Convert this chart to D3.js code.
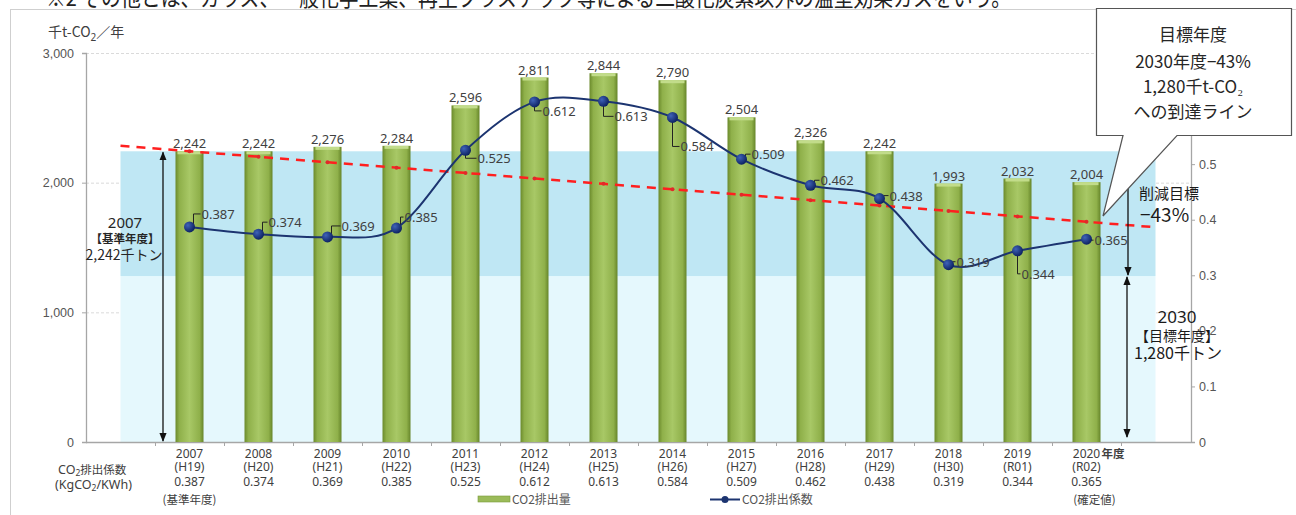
<!DOCTYPE html>
<html><head><meta charset="utf-8">
<script src="https://cdn.jsdelivr.net/npm/d3@7"></script>
<style>
body{margin:0;background:#fff;}
svg{display:block;font-family:"Noto Sans","Noto Sans CJK JP",sans-serif;}
</style></head>
<body><svg id="c" width="1296" height="515"></svg>
<script>
// ---- data ----
const years = ["2007","2008","2009","2010","2011","2012","2013","2014","2015","2016","2017","2018","2019","2020"];
const eras = ["(H19)","(H20)","(H21)","(H22)","(H23)","(H24)","(H25)","(H26)","(H27)","(H28)","(H29)","(H30)","(R01)","(R02)"];
const emissions = [2242,2242,2276,2284,2596,2811,2844,2790,2504,2326,2242,1993,2032,2004];
const coefficients = [0.387,0.374,0.369,0.385,0.525,0.612,0.613,0.584,0.509,0.462,0.438,0.319,0.344,0.365];
// target line (2007 base 2,242 -> 2030 target 1,280), read at each slot incl. the blank edge slots
const slots = ["s0","2007","2008","2009","2010","2011","2012","2013","2014","2015","2016","2017","2018","2019","2020","s15"];
const targetLine = [2284,2242,2200,2158,2116,2075,2033,1991,1949,1907,1865,1824,1782,1740,1698,1656];
const baseValue = 2242, targetValue = 1280;
const leftTicks = [0,1000,2000,3000];
const rightTicks = [0,0.1,0.2,0.3,0.4,0.5];

// label layout (offsets of coefficient labels from their points)
const lblOff = [[12,-13],[10,-12],[14,-11],[8,-11],[12,8],[8,9],[11,15],[8,29],[10,-5],[10,-5],[10,-3],[8,-3],[4,23],[8,1]];

const svg = d3.select("#c");
const defs = svg.append("defs");
const g1 = defs.append("linearGradient").attr("id","barg").attr("x1","0").attr("x2","1").attr("y1","0").attr("y2","0");
[["0%","#6b8a2c"],["14%","#8fb04a"],["50%","#a8c866"],["86%","#8fb04a"],["100%","#66852a"]].forEach(s=>g1.append("stop").attr("offset",s[0]).attr("stop-color",s[1]));
const g2 = defs.append("radialGradient").attr("id","dotg").attr("cx","35%").attr("cy","35%").attr("r","70%");
[["0%","#3f63b8"],["100%","#0b1f5e"]].forEach(s=>g2.append("stop").attr("offset",s[0]).attr("stop-color",s[1]));
const mk = defs.append("marker").attr("id","arr").attr("viewBox","0 0 10 10").attr("refX",9).attr("refY",5)
  .attr("markerWidth",7).attr("markerHeight",7).attr("orient","auto-start-reverse");
mk.append("path").attr("d","M0,1 L10,5 L0,9 Z").attr("fill","#111");

// cut-off text line at the very top
svg.append("text").attr("x",46).attr("y",6).attr("font-size",23).attr("fill","#222")
  .attr("font-family","Noto Sans CJK JP").attr("textLength",965).attr("lengthAdjust","spacingAndGlyphs")
  .text("※2 その他とは、ガラス、一般化学工業、再生プラスチック等による二酸化炭素以外の温室効果ガスをいう。");

// frame
svg.append("rect").attr("x",10.5).attr("y",9.5).attr("width",1300).attr("height",520).attr("fill","#fff").attr("stroke","#cfcfcf");

// scales
const x = d3.scaleBand().domain(slots).range([86,1190]).padding(0);
const xc = d => x(d)+x.bandwidth()/2;
const yL = d3.scaleLinear().domain([0,3000]).range([442,53]);
const yR = d3.scaleLinear().domain([0,0.7]).range([442,53]);
const bw = 28;

// gridlines
svg.append("g").selectAll("line").data(leftTicks.slice(1)).join("line")
  .attr("x1",86).attr("x2",1190).attr("y1",d=>yL(d)+0.5).attr("y2",d=>yL(d)+0.5)
  .attr("stroke","#dadada").attr("stroke-dasharray","3,2");

// background bands
const bx0 = xc("s0"), bx1 = xc("s15");
svg.append("rect").attr("x",bx0).attr("width",bx1-bx0).attr("y",yL(targetValue)).attr("height",yL(0)-yL(targetValue)).attr("fill","#e5f8fd");
svg.append("rect").attr("x",bx0).attr("width",bx1-bx0).attr("y",yL(baseValue)).attr("height",yL(targetValue)-yL(baseValue)).attr("fill","#bfe7f4");

// axes
const axL = svg.append("g").attr("transform","translate(86,0)")
  .call(d3.axisLeft(yL).tickValues(leftTicks).tickFormat(d3.format(",")).tickSize(4).tickPadding(8));
const axR = svg.append("g").attr("transform","translate(1191,0)")
  .call(d3.axisRight(yR).tickValues(rightTicks).tickFormat(d=>d===0?"0":d3.format(".1f")(d)).tickSize(4).tickPadding(4));
const xi = d3.scaleLinear().domain([0,16]).range([86,1190]);
const axB = svg.append("g").attr("transform","translate(0,442)")
  .call(d3.axisBottom(xi).tickValues(d3.range(1,16)).tickFormat("").tickSize(4));
[axL,axR,axB].forEach(a=>{
  a.select(".domain").attr("stroke","#a6a6a6").attr("stroke-width",1.3);
  a.selectAll(".tick line").attr("stroke","#a6a6a6");
  a.selectAll("text").attr("font-size",12.5).attr("fill","#555");
});
axB.select(".domain").attr("d","M86,0.5H1191");

// bars
const bars = svg.append("g");
bars.selectAll("rect.b").data(emissions).join("rect").attr("class","b")
  .attr("x",(d,i)=>xc(years[i])-bw/2).attr("width",bw)
  .attr("y",d=>yL(d)).attr("height",d=>yL(0)-yL(d)).attr("fill","url(#barg)");
bars.selectAll("rect.t").data(emissions).join("rect").attr("class","t")
  .attr("x",(d,i)=>xc(years[i])-bw/2+2).attr("width",bw-4)
  .attr("y",d=>yL(d)).attr("height",3).attr("fill","#c2dc8a");
bars.selectAll("text").data(emissions).join("text")
  .attr("x",(d,i)=>xc(years[i])).attr("y",d=>yL(d)-8).attr("text-anchor","middle")
  .attr("dominant-baseline","central").attr("font-size",13).attr("fill","#404040")
  .text(d=>d3.format(",")(d));

// red target line
svg.append("path").datum(targetLine)
  .attr("d",d3.line().x((d,i)=>xc(slots[i])).y(d=>yL(d)))
  .attr("fill","none").attr("stroke","#ff1f1f").attr("stroke-width",2.5).attr("stroke-dasharray","9,7");
svg.append("g").selectAll("circle").data(targetLine.slice(1,15)).join("circle")
  .attr("cx",(d,i)=>xc(years[i])).attr("cy",d=>yL(d)).attr("r",2).attr("fill","#e02a2a");

// coefficient line
const pts = coefficients.map((v,i)=>[xc(years[i]),yR(v)]);
svg.append("path").datum(pts).attr("d",d3.line().curve(d3.curveCardinal.tension(0)))
  .attr("fill","none").attr("stroke","#1c3470").attr("stroke-width",2);
// leaders and labels
const lab = svg.append("g");
pts.forEach((p,i)=>{
  const [dx,dy] = lblOff[i];
  const lx = p[0]+dx, ly = p[1]+dy;
  const sx = p[0]+ (dy<0?4:0);
  lab.append("path").attr("d",`M${sx},${p[1]+(dy<0?-3:4)} V${ly} H${lx-1}`)
    .attr("fill","none").attr("stroke","#222").attr("stroke-width",1);
  lab.append("text").attr("x",lx).attr("y",ly).attr("dominant-baseline","central")
    .attr("font-size",13).attr("fill","#404040").text(d3.format(".3f")(coefficients[i]));
});
svg.append("g").selectAll("circle").data(pts).join("circle")
  .attr("cx",d=>d[0]).attr("cy",d=>d[1]).attr("r",5.5).attr("fill","url(#dotg)");

// bottom category labels
const bl = svg.append("g").attr("fill","#404040").attr("text-anchor","middle").attr("font-size",12);
years.forEach((yv,i)=>{
  const cx = xc(yv);
  bl.append("text").attr("x",cx).attr("y",458).text(yv);
  bl.append("text").attr("x",cx).attr("y",471).text(eras[i]);
  bl.append("text").attr("x",cx).attr("y",486).text(d3.format(".3f")(coefficients[i]));
});
bl.append("text").attr("x",xc("2020")+15).attr("y",458).attr("text-anchor","start").attr("font-size",11.5)
  .attr("font-weight","bold").attr("font-family","Noto Sans CJK JP").text("年度");
bl.append("text").attr("x",xc("2007")).attr("y",504).attr("font-size",11.5).attr("font-family","Noto Sans CJK JP").text("(基準年度)");
bl.append("text").attr("x",xc("2020")+8).attr("y",504).attr("font-size",11.5).attr("font-family","Noto Sans CJK JP").text("(確定値)");
const cl = svg.append("g").attr("fill","#404040").attr("font-size",12.5);
const t1 = cl.append("text").attr("x",58).attr("y",474);
t1.append("tspan").text("CO");
t1.append("tspan").attr("font-size",8.5).attr("dy",2).text("2");
t1.append("tspan").attr("dy",-2).attr("font-family","Noto Sans CJK JP").attr("font-size",11.5).text("排出係数");
const t2 = cl.append("text").attr("x",55).attr("y",489);
t2.append("tspan").text("(KgCO");
t2.append("tspan").attr("font-size",8.5).attr("dy",2).text("2");
t2.append("tspan").attr("dy",-2).text("/KWh)");

// axis title
const at = svg.append("text").attr("x",48).attr("y",37).attr("font-size",14).attr("fill","#404040");
at.append("tspan").attr("font-family","Noto Sans CJK JP").text("千t-CO");
at.append("tspan").attr("font-size",10).attr("dy",4).text("2");
at.append("tspan").attr("dy",-4).attr("font-family","Noto Sans CJK JP").text("／年");

// legend
const lg = svg.append("g").attr("font-size",12).attr("fill","#555").attr("font-family","Noto Sans CJK JP");
lg.append("rect").attr("x",478).attr("y",496).attr("width",32).attr("height",6).attr("fill","#9bbb59").attr("stroke","#7a9a3a").attr("stroke-width",0.6);
lg.append("text").attr("x",512).attr("y",504).text("CO2排出量");
lg.append("line").attr("x1",710).attr("x2",740).attr("y1",499.5).attr("y2",499.5).attr("stroke","#1c3470").attr("stroke-width",2);
lg.append("circle").attr("cx",725).attr("cy",499.5).attr("r",3.5).attr("fill","#1c3470");
lg.append("text").attr("x",742).attr("y",504).text("CO2排出係数");

// left annotation
svg.append("line").attr("x1",163).attr("x2",163).attr("y1",yL(baseValue)+1).attr("y2",yL(0)-1)
  .attr("stroke","#111").attr("stroke-width",1.3).attr("marker-start","url(#arr)").attr("marker-end","url(#arr)");
const la = svg.append("g").attr("text-anchor","middle").attr("fill","#262626").attr("font-family","Noto Sans CJK JP");
la.append("text").attr("x",125).attr("y",228).attr("font-size",15).attr("font-family","Noto Sans").text("2007");
la.append("text").attr("x",125).attr("y",243).attr("font-size",11.5).attr("font-weight","bold").text("【基準年度】");
la.append("text").attr("x",124).attr("y",260).attr("font-size",14).text("2,242千トン");

// right annotations
svg.append("line").attr("x1",1128).attr("x2",1128).attr("y1",186).attr("y2",yL(targetValue)-1)
  .attr("stroke","#111").attr("stroke-width",1.3).attr("marker-end","url(#arr)");
svg.append("line").attr("x1",1127).attr("x2",1127).attr("y1",yL(targetValue)+1).attr("y2",yL(0)-5)
  .attr("stroke","#111").attr("stroke-width",1.3).attr("marker-start","url(#arr)").attr("marker-end","url(#arr)");
const ra = svg.append("g").attr("fill","#1a1a1a").attr("font-family","Noto Sans CJK JP");
ra.append("text").attr("x",1139).attr("y",199).attr("font-size",15).text("削減目標");
ra.append("text").attr("x",1140).attr("y",222).attr("font-size",19).text("−43%");
const rb = svg.append("g").attr("fill","#1a1a1a").attr("text-anchor","middle").attr("font-family","Noto Sans CJK JP");
rb.append("text").attr("x",1177).attr("y",323).attr("font-size",17).attr("font-family","Noto Sans").text("2030");
rb.append("text").attr("x",1177).attr("y",341).attr("font-size",14).text("【目標年度】");
rb.append("text").attr("x",1178).attr("y",359).attr("font-size",16).text("1,280千トン");

// callout box
svg.append("path").attr("d","M1096.5,8.5 H1291.5 V135.5 H1177 L1103,216 L1123,135.5 H1096.5 Z")
  .attr("fill","#fff").attr("stroke","#555").attr("stroke-width",1.2);
const cb = svg.append("g").attr("text-anchor","middle").attr("fill","#262626").attr("font-size",17).attr("font-family","Noto Sans CJK JP");
cb.append("text").attr("x",1193).attr("y",41).text("目標年度");
cb.append("text").attr("x",1193).attr("y",68).text("2030年度−43%");
cb.append("text").attr("x",1193).attr("y",93).text("1,280千t-CO₂");
cb.append("text").attr("x",1193).attr("y",118).text("への到達ライン");
</script></body></html>
